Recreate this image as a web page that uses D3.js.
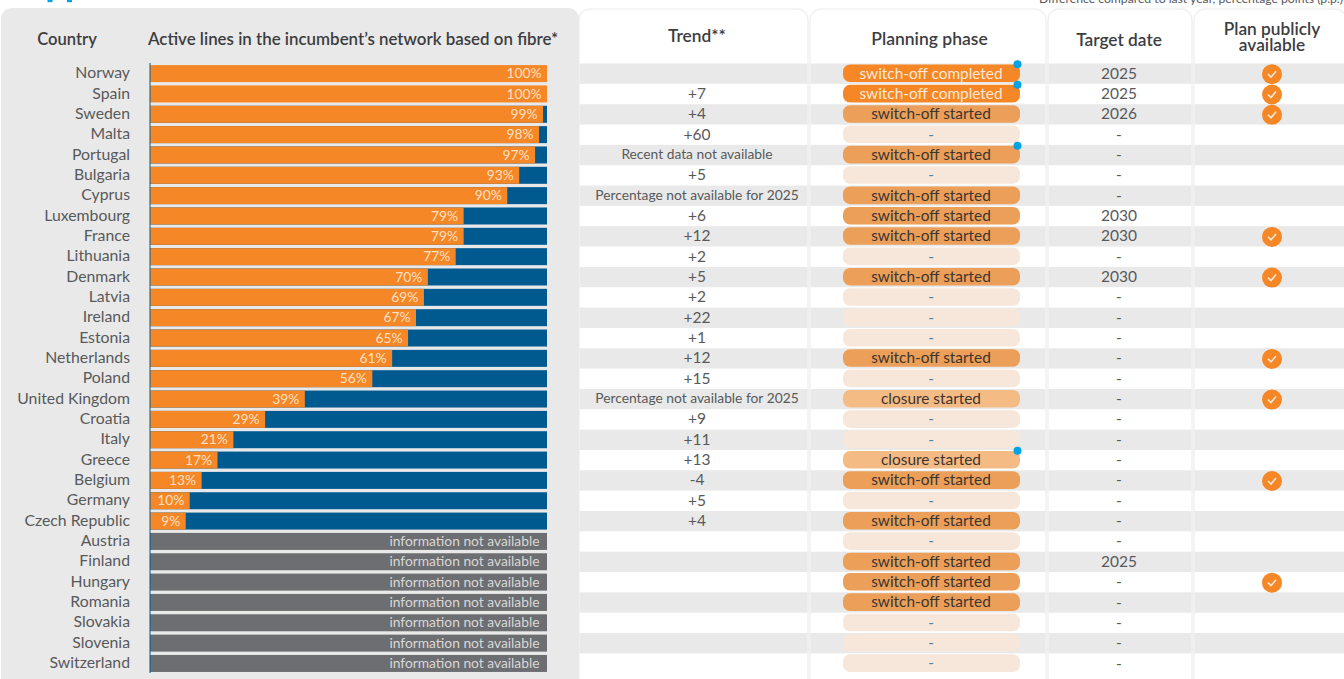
<!DOCTYPE html>
<meta charset="utf-8">
<script src="https://cdn.jsdelivr.net/npm/d3@7"></script>
<style>
  html, body { margin: 0; padding: 0; background: #fff; overflow: hidden; }
  text { font-family: Lato, sans-serif; }
</style>
<body>
<script>

var width = 1344
var height = 679

var countries = ["Norway", "Spain", "Sweden", "Malta", "Portugal", "Bulgaria", "Cyprus", "Luxembourg", "France", "Lithuania",
  "Denmark", "Latvia", "Ireland", "Estonia", "Netherlands", "Poland", "United Kingdom", "Croatia", "Italy", "Greece",
  "Belgium", "Germany", "Czech Republic", "Austria", "Finland", "Hungary", "Romania", "Slovakia", "Slovenia", "Switzerland"]

// null = information not available
var fibre = [100, 100, 99, 98, 97, 93, 90, 79, 79, 77, 70, 69, 67, 65, 61, 56, 39, 29, 21, 17, 13, 10, 9,
  null, null, null, null, null, null, null]

var NA_RECENT = "Recent data not available"
var NA_2025 = "Percentage not available for 2025"
var trend = ["", "+7", "+4", "+60", NA_RECENT, "+5", NA_2025, "+6", "+12", "+2", "+5", "+2", "+22", "+1", "+12", "+15",
  NA_2025, "+9", "+11", "+13", "-4", "+5", "+4", "", "", "", "", "", "", ""]

var phase = ["completed", "completed", "started", "-", "started", "-", "started", "started", "started", "-",
  "started", "-", "-", "-", "started", "-", "closure", "-", "-", "closure",
  "started", "-", "started", "-", "started", "started", "started", "-", "-", "-"]

var phaseLabels = { completed: "switch-off completed", started: "switch-off started", closure: "closure started", "-": "-" }

var target = ["2025", "2025", "2026", "-", "-", "-", "-", "2030", "2030", "-", "2030", "-", "-", "-", "-", "-",
  "-", "-", "-", "-", "-", "-", "-", "-", "2025", "-", "-", "-", "-", "-"]

var planPublic = ["Norway", "Spain", "Sweden", "France", "Denmark", "Netherlands", "United Kingdom", "Belgium", "Hungary"]
var dotted = ["Norway", "Spain", "Portugal", "Greece"]

var orange = "#f58727"
var blue = "#005a8f"
var grey = "#6d6e71"
var stripe = "#e9e9e9"
var phaseFill = { completed: "#f58727", started: "#ec9f58", closure: "#f5bb85", "-": "#f7e7da" }

var y = d3.scaleBand().domain(countries).range([63.5, 673.7]).padding(0)
var x = d3.scaleLinear().domain([0, 100]).range([150, 547])

var svg = d3.select("body").append("svg")
  .attr("width", width)
  .attr("height", height)
  .style("display", "block")

// stripes on the table side
svg.append("g").selectAll("rect")
  .data(countries.filter((d, i) => i % 2 == 0))
  .join("rect")
  .attr("x", 570)
  .attr("y", d => y(d))
  .attr("width", width - 570)
  .attr("height", y.bandwidth())
  .attr("fill", stripe)

// column outlines
var columns = [[579, 808], [810, 1046], [1048, 1192], [1194, 1346]]
svg.append("g").selectAll("rect")
  .data(columns)
  .join("rect")
  .attr("x", d => d[0])
  .attr("y", 9)
  .attr("width", d => d[1] - d[0])
  .attr("height", 700)
  .attr("rx", 11)
  .attr("fill", "none")
  .attr("stroke", "#f1f1f1")
  .attr("stroke-width", 1.5)

// grey panel behind country names and bars
svg.append("rect")
  .attr("x", 1)
  .attr("y", 8)
  .attr("width", 578)
  .attr("height", 700)
  .attr("rx", 11)
  .attr("fill", stripe)

// fragments of the cropped title at the top
svg.append("g").selectAll("rect")
  .data([47.5, 67])
  .join("rect")
  .attr("x", d => d)
  .attr("y", 0)
  .attr("width", 5)
  .attr("height", 2.2)
  .attr("fill", "#00a3e8")

svg.append("text")
  .attr("x", 1343)
  .attr("y", 2.5)
  .attr("text-anchor", "end")
  .attr("font-size", 12.2)
  .attr("fill", "#58595b")
  .text("Difference compared to last year, percentage points (p.p.)")

// headers
var headers = [
  { label: ["Country"], x: 67, anchor: "middle", y: 45, size: 16.6 },
  { label: ["Active lines in the incumbent\u2019s network based on fibre*"], x: 148, anchor: "start", y: 45, size: 16.9 },
  { label: ["Trend**"], x: 697, anchor: "middle", y: 42, size: 17.3 },
  { label: ["Planning phase"], x: 929.5, anchor: "middle", y: 45, size: 17.5 },
  { label: ["Target date"], x: 1119, anchor: "middle", y: 46, size: 17.3 },
  { label: ["Plan publicly", "available"], x: 1272, anchor: "middle", y: 34.5, size: 17.3 }
]
headers.forEach(h => {
  h.label.forEach((t, i) => {
    svg.append("text")
      .attr("x", h.x)
      .attr("y", h.y + i * 16.5)
      .attr("text-anchor", h.anchor)
      .attr("font-size", h.size)
      .style("font-weight", 600)
      .attr("fill", "#3d3d3f")
      .text(t)
  })
})

// country labels
svg.append("g").selectAll("text")
  .data(countries)
  .join("text")
  .attr("x", 130)
  .attr("y", d => y(d) + y.bandwidth() / 2 + 4.5)
  .attr("text-anchor", "end")
  .attr("font-size", 15.8)
  .attr("fill", "#58595b")
  .text(d => d)

// bars: background (remainder or n/a) then fibre share
var rows = countries.map((c, i) => ({ country: c, value: fibre[i], trend: trend[i], phase: phase[i], target: target[i] }))
var barH = 17

svg.append("g").selectAll("rect")
  .data(rows.filter(d => d.value != 100))
  .join("rect")
  .attr("x", x(0))
  .attr("y", d => y(d.country) + 1.6)
  .attr("width", x(100) - x(0))
  .attr("height", barH)
  .attr("fill", d => d.value == null ? grey : blue)

svg.append("g").selectAll("rect")
  .data(rows.filter(d => d.value != null))
  .join("rect")
  .attr("x", x(0))
  .attr("y", d => y(d.country) + 1.6)
  .attr("width", d => x(d.value) - x(0))
  .attr("height", barH)
  .attr("fill", orange)

// thin axis line
svg.append("line")
  .attr("x1", x(0))
  .attr("x2", x(0))
  .attr("y1", 63)
  .attr("y2", 673)
  .attr("stroke", blue)
  .attr("stroke-width", 1)

svg.append("g").selectAll("text")
  .data(rows)
  .join("text")
  .attr("x", d => d.value == null ? x(100) - 7.5 : x(d.value) - 5.5)
  .attr("y", d => y(d.country) + y.bandwidth() / 2 + 4.5)
  .attr("text-anchor", "end")
  .attr("font-size", 13.8)
  .attr("fill", d => d.value == null ? "#d8d8d8" : "#fde0c4")
  .text(d => d.value == null ? "information not available" : d.value + "%")

// trend column
svg.append("g").selectAll("text")
  .data(rows)
  .join("text")
  .attr("x", 697)
  .attr("y", d => y(d.country) + y.bandwidth() / 2 + (d.trend.length > 4 ? 4 : 5))
  .attr("text-anchor", "middle")
  .attr("font-size", d => d.trend.length > 4 ? 13.8 : 15.5)
  .attr("fill", "#58595b")
  .text(d => d.trend)

// planning phase pills
var pillX = 843
var pillW = 177
var pills = svg.append("g").selectAll("g")
  .data(rows)
  .join("g")
  .attr("transform", d => "translate(0," + y(d.country) + ")")

pills.append("rect")
  .attr("x", pillX)
  .attr("y", 1)
  .attr("width", pillW)
  .attr("height", 17.6)
  .attr("rx", 7)
  .attr("fill", d => phaseFill[d.phase])

pills.append("text")
  .attr("x", pillX + pillW / 2 - 0.5)
  .attr("y", 15)
  .attr("text-anchor", "middle")
  .attr("font-size", 15.4)
  .attr("fill", d => d.phase == "completed" ? "#fde9d6" : d.phase == "-" ? "#3c87b0" : "#3d3530")
  .text(d => phaseLabels[d.phase])

svg.append("g").selectAll("circle")
  .data(dotted)
  .join("circle")
  .attr("cx", 1017.5)
  .attr("cy", d => y(d) + 0.8)
  .attr("r", 4)
  .attr("fill", "#00a3e8")

// target date
svg.append("g").selectAll("text")
  .data(rows)
  .join("text")
  .attr("x", 1119)
  .attr("y", d => y(d.country) + y.bandwidth() / 2 + 5)
  .attr("text-anchor", "middle")
  .attr("font-size", 15.5)
  .attr("fill", "#58595b")
  .text(d => d.target)

// check marks for plans that are public
var checks = svg.append("g").selectAll("g")
  .data(planPublic)
  .join("g")
  .attr("transform", d => "translate(1272," + (y(d) + y.bandwidth() / 2 + 0.5) + ")")

checks.append("circle")
  .attr("r", 10)
  .attr("fill", orange)

checks.append("path")
  .attr("d", d3.line()([[-4, 0], [-1, 3], [4, -3]]))
  .attr("fill", "none")
  .attr("stroke", "#fde9d6")
  .attr("stroke-width", 1.6)

</script>
</body>
